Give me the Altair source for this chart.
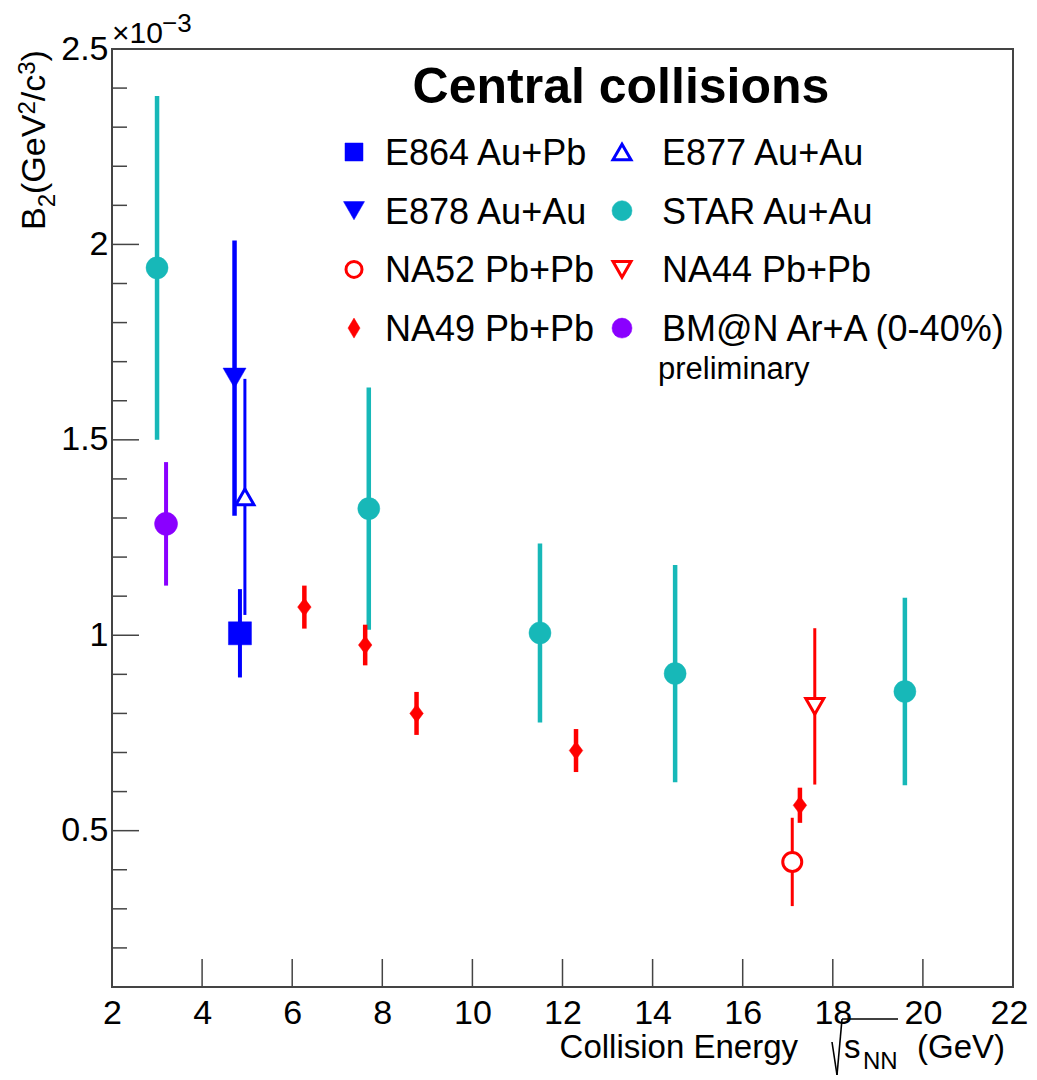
import altair as alt
import pandas as pd

# ---------------- data ----------------
e864_x = [4.84]
e864_y = [1.005]
e864_err = [0.113]

e877_x = [4.95]
e877_y = [1.354]
e877_err = [0.302]

e878_x = [4.72]
e878_y = [1.658]
e878_err = [0.352]

star_x = [3.0, 7.7, 11.5, 14.5, 19.6]
star_y = [1.94, 1.324, 1.006, 0.902, 0.856]
star_err = [0.44, 0.31, 0.229, 0.278, 0.24]

na52_x = [17.1]
na52_y = [0.42]
na52_err = [0.113]

na44_x = [17.6]
na44_y = [0.818]
na44_err = [0.2]

na49_x = [6.27, 7.62, 8.76, 12.3, 17.27]
na49_y = [1.072, 0.975, 0.80, 0.705, 0.565]
na49_err = [0.055, 0.052, 0.055, 0.055, 0.045]

bmn_x = [3.2]
bmn_y = [1.285]
bmn_err = [0.158]

legend_labels = ["E864 Au+Pb", "E877 Au+Au", "E878 Au+Au", "STAR Au+Au",
                 "NA52 Pb+Pb", "NA44 Pb+Pb", "NA49 Pb+Pb", "BM@N Ar+A (0-40%)"]

x_major = [2, 4, 6, 8, 10, 12, 14, 16, 18, 20, 22]
x_ticks = [4, 6, 8, 10, 12, 14, 16, 18, 20]
y_major = [0.5, 1.0, 1.5, 2.0, 2.5]
y_minor = [0.2, 0.3, 0.4, 0.6, 0.7, 0.8, 0.9, 1.1, 1.2, 1.3, 1.4, 1.6, 1.7, 1.8,
           1.9, 2.1, 2.2, 2.3, 2.4]

# ---------------- styles ----------------
W, H = 901, 938
FONT = "Liberation Sans"
BLUE, RED, TEAL, PURPLE = "#0000ff", "#ff0000", "#17b8b8", "#8a00ff"
DIAMOND = "M-0.75,0L0,-1L0.75,0L0,1Z"
DIAMOND_L = "M-0.6,0L0,-1L0.6,0L0,1Z"

XS = alt.Scale(domain=[2, 22], nice=False, zero=False)
YS = alt.Scale(domain=[0.1, 2.5], nice=False, zero=False)
XAX = alt.Axis(values=x_major, format="~g", ticks=False, tickSize=0, domain=False, grid=False,
               labelFont=FONT, labelFontSize=34, labelColor="black", labelPadding=9,
               labelFlush=False, title=None,
               labelOffset={"condition": {"test": "datum.value == 22", "value": -4}, "value": 0})
YAX = alt.Axis(values=y_major, format="~g", ticks=False, tickSize=0, domain=False, grid=False,
               labelFont=FONT, labelFontSize=34, labelColor="black", labelPadding=4,
               labelFlush=False, title=None)

series = [
    # name, xs, ys, errs, color, shape, open, size, bar width, legend shape, legend size
    ("E864", e864_x, e864_y, e864_err, BLUE, "square", False, 529, 4, "square", 324),
    ("E877", e877_x, e877_y, e877_err, BLUE, "triangle-up", True, 324, 3, "triangle-up", 324),
    ("E878", e878_x, e878_y, e878_err, BLUE, "triangle-down", False, 529, 4.5, "triangle-down", 441),
    ("STAR", star_x, star_y, star_err, TEAL, "circle", False, 484, 4.5, "circle", 400),
    ("NA52", na52_x, na52_y, na52_err, RED, "circle", True, 361, 3, "circle", 256),
    ("NA44", na44_x, na44_y, na44_err, RED, "triangle-down", True, 324, 3, "triangle-down", 324),
    ("NA49", na49_x, na49_y, na49_err, RED, DIAMOND, False, 324, 4.5, DIAMOND_L, 400),
    ("BMN", bmn_x, bmn_y, bmn_err, PURPLE, "circle", False, 529, 4, "circle", 400),
]

layers = []

# inward ticks
layers.append(alt.Chart(pd.DataFrame({"v": y_major})).mark_rule(color="#444", strokeWidth=1.5).encode(
    y=alt.Y("v:Q", scale=YS, axis=YAX), x=alt.value(0), x2=alt.value(27)))
layers.append(alt.Chart(pd.DataFrame({"v": y_minor})).mark_rule(color="#444", strokeWidth=1.5).encode(
    y=alt.Y("v:Q", scale=YS, axis=YAX), x=alt.value(0), x2=alt.value(15)))
layers.append(alt.Chart(pd.DataFrame({"v": x_ticks})).mark_rule(color="#444", strokeWidth=1.5).encode(
    x=alt.X("v:Q", scale=XS, axis=XAX), y=alt.value(H), y2=alt.value(H - 28)))


def marker(data, shape, size, col, is_open):
    if is_open:
        return alt.Chart(data).mark_point(shape=shape, size=size, filled=True, fill="white", stroke=col,
                                          strokeWidth=3, opacity=1, fillOpacity=1, strokeOpacity=1)
    return alt.Chart(data).mark_point(shape=shape, size=size, filled=True, fill=col, stroke=col,
                                      strokeWidth=0.5, opacity=1, fillOpacity=1)


# data: error bars then markers
for name, xs, ys, es, col, shape, is_open, size, bw, _, _ in series:
    df = pd.DataFrame({"x": xs, "y": ys,
                       "lo": [a - b for a, b in zip(ys, es)],
                       "hi": [a + b for a, b in zip(ys, es)]})
    layers.append(alt.Chart(df).mark_rule(color=col, strokeWidth=bw).encode(
        x=alt.X("x:Q", scale=XS, axis=XAX),
        y=alt.Y("lo:Q", scale=YS, axis=YAX),
        y2="hi:Q"))
    layers.append(marker(df, shape, size, col, is_open).encode(
        x=alt.X("x:Q", scale=XS, axis=XAX),
        y=alt.Y("y:Q", scale=YS, axis=YAX)))

one = pd.DataFrame({"a": [0]})


def text(t, x, y, size, align="left", baseline="alphabetic", angle=0, weight="normal"):
    return alt.Chart(pd.DataFrame({"t": [t]})).mark_text(
        font=FONT, fontSize=size, align=align, baseline=baseline, angle=angle,
        fontWeight=weight, color="black").encode(text="t:N", x=alt.value(x), y=alt.value(y))


def seg(x1, y1, x2, y2, w=1.6):
    return alt.Chart(one).mark_rule(color="black", strokeWidth=w).encode(
        x=alt.value(x1), y=alt.value(y1), x2=alt.value(x2), y2=alt.value(y2))


# legend
layers.append(text("Central collisions", 509, 54, 50, align="center", weight="bold"))
for i, (s, lab) in enumerate(zip(series, legend_labels)):
    name, xs, ys, es, col, shape, is_open, size, bw, lshape, lsize = s
    colx = 242 if i % 2 == 0 else 510
    tx = 273 if i % 2 == 0 else 550
    ry = 103 + 58.7 * (i // 2)
    layers.append(marker(one, lshape, lsize, col, is_open).encode(x=alt.value(colx), y=alt.value(ry)))
    layers.append(text(lab, tx, ry + 13, 36))
layers.append(text("preliminary", 546, 330, 31))

# exponent
layers.append(text("×10", 0, -6, 30))
layers.append(text("−3", 50, -17, 26))

# y title (rotated, built from pieces)
yt = [("B", 181, -67, 34), ("2", 158.3, -57, 24), ("(GeV", 145, -67, 34),
      ("2", 65.6, -77, 24), ("/c", 52.3, -67, 34), ("3", 25.8, -77, 24), (")", 12.5, -67, 34)]
for t, yy, xx, fs in yt:
    layers.append(text(t, xx, yy, fs, angle=270))

# x title
layers.append(text("Collision Energy", 686, 1009, 33, align="right"))
layers.append(seg(720, 993, 725, 1026))
layers.append(seg(725, 1026, 730, 970))
layers.append(seg(730, 970, 786, 970))
layers.append(text("s", 732, 1009, 33))
layers.append(text("NN", 751, 1020, 24))
layers.append(text("(GeV)", 893, 1009, 33, align="right"))

chart = alt.layer(*layers).properties(
    width=W, height=H,
    autosize=alt.AutoSizeParams(type="none"),
    padding={"left": 104, "top": 41, "right": 16, "bottom": 90},
).configure_view(stroke="#444", strokeWidth=2)

chart.save("out.html", embed_options={"renderer": "svg", "actions": False})
